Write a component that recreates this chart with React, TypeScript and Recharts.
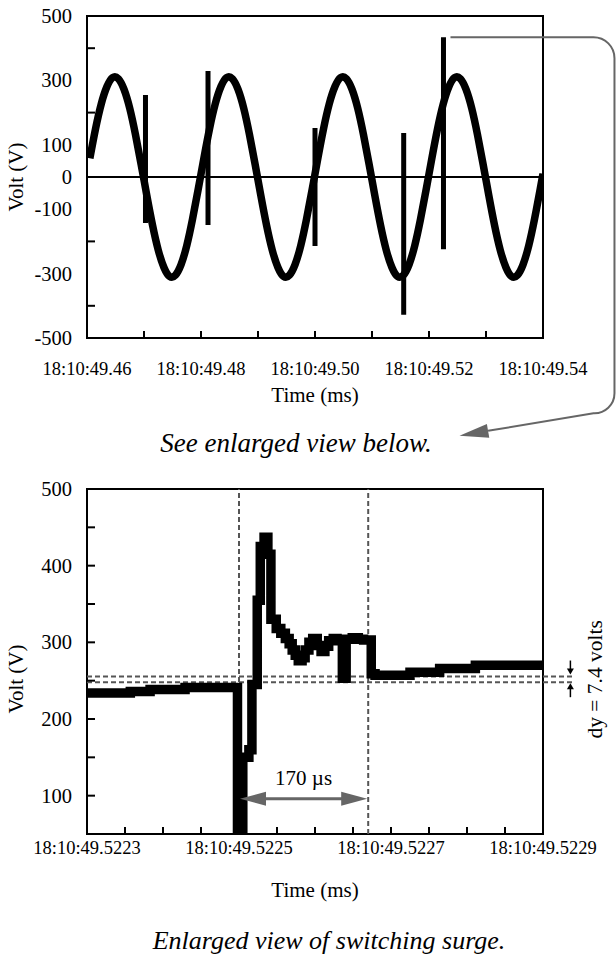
import React from 'react';
import { ComposedChart, Line, XAxis, YAxis, ReferenceLine, ReferenceArea, ReferenceDot } from 'recharts';

const SERIF = '"Liberation Serif", "Times New Roman", Times, serif';
const INK = '#000';
const GREY = '#666';
const DASH = '#555';

// ---------------- Top chart: 50 Hz waveform with switching spikes ----------------
const waveTimes = [
  49.4605, 49.4615, 49.4625, 49.4635, 49.4645, 49.4655, 49.4665, 49.4675, 49.4685, 49.4695,
  49.4705, 49.4715, 49.4725, 49.4735, 49.4745, 49.4755, 49.4765, 49.4775, 49.4785, 49.4795,
  49.4805, 49.4815, 49.4825, 49.4835, 49.4845, 49.4855, 49.4865, 49.4875, 49.4885, 49.4895,
  49.4905, 49.4915, 49.4925, 49.4935, 49.4945, 49.4955, 49.4965, 49.4975, 49.4985, 49.4995,
  49.5005, 49.5015, 49.5025, 49.5035, 49.5045, 49.5055, 49.5065, 49.5075, 49.5085, 49.5095,
  49.5105, 49.5115, 49.5125, 49.5135, 49.5145, 49.5155, 49.5165, 49.5175, 49.5185, 49.5195,
  49.5205, 49.5215, 49.5225, 49.5235, 49.5245, 49.5255, 49.5265, 49.5275, 49.5285, 49.5295,
  49.5305, 49.5315, 49.5325, 49.5335, 49.5345, 49.5355, 49.5365, 49.5375, 49.5385, 49.5395,
  49.54,
];
const waveVolts = [
  58, 150, 227, 281, 309, 305, 272, 213, 132, 39,
  -58, -150, -227, -281, -309, -305, -272, -213, -132, -39,
  58, 150, 227, 281, 309, 305, 272, 213, 132, 39,
  -58, -150, -227, -281, -309, -305, -272, -213, -132, -39,
  58, 150, 227, 281, 309, 305, 272, 213, 132, 39,
  -58, -150, -227, -281, -309, -305, -272, -213, -132, -39,
  58, 150, 227, 281, 309, 305, 272, 213, 132, 39,
  -58, -150, -227, -281, -309, -305, -272, -213, -132, -39,
  10,
];
const spikeTimes = [49.47026, 49.48123, 49.5, 49.51556, 49.52254];
const spikeHigh = [255, 329, 152, 137, 434];
const spikeLow = [-143, -149, -214, -428, -224];

const topXDomain: [number, number] = [49.46, 49.54];
const topXTicks = [49.46, 49.47, 49.48, 49.49, 49.5, 49.51, 49.52, 49.53, 49.54];
const topXLabels = [49.46, 49.48, 49.5, 49.52, 49.54];
const topYDomain: [number, number] = [-500, 500];
const topYTicks = [-500, -400, -300, -200, -100, 0, 100, 200, 300, 400, 500];
const topYLabels = [500, 300, 100, 0, -100, -300, -500];
const topYMarks = [400, 200, -200, -400];

// ---------------- Bottom chart: enlarged switching surge ----------------
const surgeTimes = [
  49.5223, 49.522357, 49.522383, 49.522429, 49.522498, 49.522505, 49.522513, 49.522517,
  49.522524, 49.522528, 49.522533, 49.522538, 49.522542, 49.522549, 49.522555, 49.522561,
  49.522566, 49.52257, 49.522574, 49.522578, 49.522583, 49.522587, 49.522592, 49.522597,
  49.522603, 49.522608, 49.522613, 49.522618, 49.522624, 49.522629, 49.522636, 49.522641,
  49.522649, 49.522657, 49.522664, 49.522674, 49.522679, 49.522725, 49.522764, 49.522811,
  49.5229,
];
const surgeVolts = [
  234, 236, 238.5, 241, 30, 150, 160, 245,
  355, 425, 437, 415, 330, 318, 312, 305,
  298, 290, 283, 276, 280, 290, 300, 305,
  296, 288, 295, 302, 305, 303, 253, 304,
  306, 304, 303, 259, 257, 261, 266, 270,
  271,
];
const bottomXDomain: [number, number] = [49.5223, 49.5229];
const bottomXTicks = [
  49.5223, 49.52235, 49.5224, 49.52245, 49.5225, 49.52255, 49.5226,
  49.52265, 49.5227, 49.52275, 49.5228, 49.52285, 49.5229,
];
const bottomXLabels = [49.5223, 49.5225, 49.5227, 49.5229];
const bottomYDomain: [number, number] = [50, 500];
const bottomYTicks = [50, 100, 150, 200, 250, 300, 350, 400, 450, 500];
const bottomYLabels = [100, 200, 300, 400, 500];
const bottomYMarks = [100, 150, 200, 250, 300, 350, 400, 450];

const cursorTimes = [49.5225, 49.52267];
const levelVolts = [255.4, 248.0];
const levelEndTime = 49.52294;
const spanArrowVolt = 96;

const waveData = waveTimes.map((t, i) => ({ t, v: waveVolts[i] }));
const spikeData = spikeTimes.flatMap((t, i) => [
  { t, v: spikeHigh[i] },
  { t, v: spikeLow[i] },
  { t, v: null as number | null },
]);
const surgeData = surgeTimes.map((t, i) => ({ t, v: surgeVolts[i] }));

const has = (arr: number[], v: number) => arr.some((a) => Math.abs(a - v) < 1e-9);

function makeXTick(domain: [number, number], labels: number[], digits: number, labelDy: number) {
  return (p: any) => {
    const v = p.payload.value as number;
    const interior = v > domain[0] + 1e-9 && v < domain[1] - 1e-9;
    return (
      <g>
        {interior && <line x1={p.x} y1={p.y} x2={p.x} y2={p.y - 7} stroke={INK} strokeWidth={2} />}
        {has(labels, v) && (
          <text x={p.x} y={p.y + labelDy} textAnchor="middle" dominantBaseline="central" fontFamily={SERIF} fontSize={18.5} fill={INK}>
            {`18:10:${v.toFixed(digits)}`}
          </text>
        )}
      </g>
    );
  };
}

function makeYTick(labels: number[], marks: number[]) {
  return (p: any) => {
    const v = p.payload.value as number;
    return (
      <g>
        {has(marks, v) && <line x1={p.x} y1={p.y} x2={p.x + 8} y2={p.y} stroke={INK} strokeWidth={2} />}
        {has(labels, v) && (
          <text x={p.x - 15} y={p.y} textAnchor="end" dominantBaseline="central" fontFamily={SERIF} fontSize={20.5} fill={INK}>
            {String(v)}
          </text>
        )}
      </g>
    );
  };
}

function xTitle(titleDy: number, caption: string, captionDx: number, captionDy: number, captionSize: number) {
  return (p: any) => {
    const vb = p.viewBox;
    const cx = vb.x + vb.width / 2;
    return (
      <g>
        <text x={cx} y={vb.y + titleDy} textAnchor="middle" dominantBaseline="central" fontFamily={SERIF} fontSize={21} fill={INK}>
          Time (ms)
        </text>
        <text x={cx + captionDx} y={vb.y + captionDy} textAnchor="middle" dominantBaseline="central" fontFamily={SERIF} fontStyle="italic" fontSize={captionSize} fill={INK}>
          {caption}
        </text>
      </g>
    );
  };
}

function yTitle(dy: number) {
  return (p: any) => {
    const vb = p.viewBox;
    const x = vb.x + 16;
    const y = vb.y + vb.height / 2 + dy;
    return (
      <text x={x} y={y} transform={`rotate(-90, ${x}, ${y})`} textAnchor="middle" dominantBaseline="central" fontFamily={SERIF} fontSize={21} fill={INK}>
        Volt (V)
      </text>
    );
  };
}

// leader from the last spike to the enlarged view
const leaderShape = (p: any) => {
  const cx = p.cx as number;
  const cy = p.cy as number;
  const d = `M ${cx + 7} ${cy} H ${cx + 150} A 21 21 0 0 1 ${cx + 171} ${cy + 21} V ${cy + 356} A 20 20 0 0 1 ${cx + 150} ${cy + 376} L ${cx + 44.6} ${cy + 393.6}`;
  const head = `${cx + 16} ${cy + 398.5} ${cx + 45.8} ${cy + 400.5} ${cx + 43.4} ${cy + 386.7}`;
  return (
    <g>
      <path d={d} fill="none" stroke={GREY} strokeWidth={2} />
      <polygon points={head} fill={GREY} />
    </g>
  );
};

const spanArrowShape = (p: any) => {
  const { x1, x2, y1 } = p;
  return (
    <g>
      <line x1={x1 + 24} y1={y1} x2={x2 - 24} y2={y1} stroke={GREY} strokeWidth={3} />
      <polygon points={`${x1 + 1} ${y1} ${x1 + 27} ${y1 - 7} ${x1 + 27} ${y1 + 7}`} fill={GREY} />
      <polygon points={`${x2 - 1} ${y1} ${x2 - 27} ${y1 - 7} ${x2 - 27} ${y1 + 7}`} fill={GREY} />
      <text x={(x1 + x2) / 2} y={y1 - 21} textAnchor="middle" dominantBaseline="central" fontFamily={SERIF} fontSize={21} fill={INK}>
        170 µs
      </text>
    </g>
  );
};

const levelShape = (upper: boolean) => (p: any) => {
  const { x1, x2, y1 } = p;
  const ax = x2 - 3;
  const tip = upper ? y1 - 2 : y1 + 1;
  const dir = upper ? -1 : 1;
  return (
    <g>
      <line x1={x1} y1={y1} x2={x2} y2={y1} stroke={DASH} strokeWidth={2} strokeDasharray="5 3" />
      <line x1={ax} y1={tip + dir * 5} x2={ax} y2={tip + dir * 14} stroke={INK} strokeWidth={1.5} />
      <polygon points={`${ax} ${tip} ${ax - 3.5} ${tip + dir * 6} ${ax + 3.5} ${tip + dir * 6}`} fill={INK} />
    </g>
  );
};

const dyTextShape = (p: any) => {
  const x = (p.cx as number) + 22;
  const y = p.cy as number;
  return (
    <text x={x} y={y} transform={`rotate(-90, ${x}, ${y})`} textAnchor="middle" dominantBaseline="central" fontFamily={SERIF} fontSize={21.5} fill={INK}>
      dy = 7.4 volts
    </text>
  );
};

export default function App() {
  return (
    <div style={{ position: 'absolute', left: 0, top: 0, width: 616, height: 954, background: '#fff' }}>
      <div style={{ position: 'absolute', left: 0, top: 0 }}>
        <ComposedChart width={616} height={460} margin={{ top: 16, right: 73, bottom: 62, left: 0 }}>
          <XAxis
            dataKey="t"
            type="number"
            domain={topXDomain}
            allowDataOverflow
            ticks={topXTicks}
            interval={0}
            axisLine={false}
            tickLine={false}
            tickSize={0}
            tickMargin={0}
            height={60}
            tick={makeXTick(topXDomain, topXLabels, 2, 31)}
            label={xTitle(57, 'See enlarged view below.', -19, 105, 27)}
          />
          <YAxis
            type="number"
            domain={topYDomain}
            allowDataOverflow
            ticks={topYTicks}
            interval={0}
            axisLine={false}
            tickLine={false}
            tickSize={0}
            tickMargin={0}
            width={87}
            tick={makeYTick(topYLabels, topYMarks)}
            label={yTitle(0)}
          />
          <ReferenceLine y={0} stroke={INK} strokeWidth={2} />
          <Line data={waveData} dataKey="v" type="natural" stroke={INK} strokeWidth={7.5} dot={false} isAnimationActive={false} />
          <Line data={spikeData} dataKey="v" type="linear" stroke={INK} strokeWidth={5} dot={false} connectNulls={false} isAnimationActive={false} />
          <ReferenceArea x1={topXDomain[0]} x2={topXDomain[1]} y1={topYDomain[0]} y2={topYDomain[1]} fill="none" fillOpacity={0} stroke={INK} strokeWidth={2} />
          <ReferenceDot x={spikeTimes[4]} y={spikeHigh[4]} r={0} shape={leaderShape} />
        </ComposedChart>
      </div>
      <div style={{ position: 'absolute', left: 0, top: 470 }}>
        <ComposedChart width={616} height={484} margin={{ top: 19, right: 73, bottom: 60, left: 0 }}>
          <XAxis
            dataKey="t"
            type="number"
            domain={bottomXDomain}
            allowDataOverflow
            ticks={bottomXTicks}
            interval={0}
            axisLine={false}
            tickLine={false}
            tickSize={0}
            tickMargin={0}
            height={60}
            tick={makeXTick(bottomXDomain, bottomXLabels, 4, 14)}
            label={xTitle(56, 'Enlarged view of switching surge.', 14, 106, 26)}
          />
          <YAxis
            type="number"
            domain={bottomYDomain}
            allowDataOverflow
            ticks={bottomYTicks}
            interval={0}
            axisLine={false}
            tickLine={false}
            tickSize={0}
            tickMargin={0}
            width={87}
            tick={makeYTick(bottomYLabels, bottomYMarks)}
            label={yTitle(17.5)}
          />
          {cursorTimes.map((t) => (
            <ReferenceLine key={t} x={t} stroke={DASH} strokeWidth={2} strokeDasharray="5 3" />
          ))}
          <ReferenceLine
            segment={[{ x: bottomXDomain[0], y: levelVolts[0] }, { x: levelEndTime, y: levelVolts[0] }]}
            ifOverflow="visible"
            shape={levelShape(true)}
          />
          <ReferenceLine
            segment={[{ x: bottomXDomain[0], y: levelVolts[1] }, { x: levelEndTime, y: levelVolts[1] }]}
            ifOverflow="visible"
            shape={levelShape(false)}
          />
          <Line data={surgeData} dataKey="v" type="stepAfter" stroke={INK} strokeWidth={9.5} strokeLinejoin="miter" dot={false} isAnimationActive={false} />
          <ReferenceLine
            segment={[{ x: cursorTimes[0], y: spanArrowVolt }, { x: cursorTimes[1], y: spanArrowVolt }]}
            ifOverflow="visible"
            shape={spanArrowShape}
          />
          <ReferenceDot x={levelEndTime} y={(levelVolts[0] + levelVolts[1]) / 2} r={0} ifOverflow="visible" shape={dyTextShape} />
          <ReferenceArea x1={bottomXDomain[0]} x2={bottomXDomain[1]} y1={bottomYDomain[0]} y2={bottomYDomain[1]} fill="none" fillOpacity={0} stroke={INK} strokeWidth={2} />
        </ComposedChart>
      </div>
    </div>
  );
}
